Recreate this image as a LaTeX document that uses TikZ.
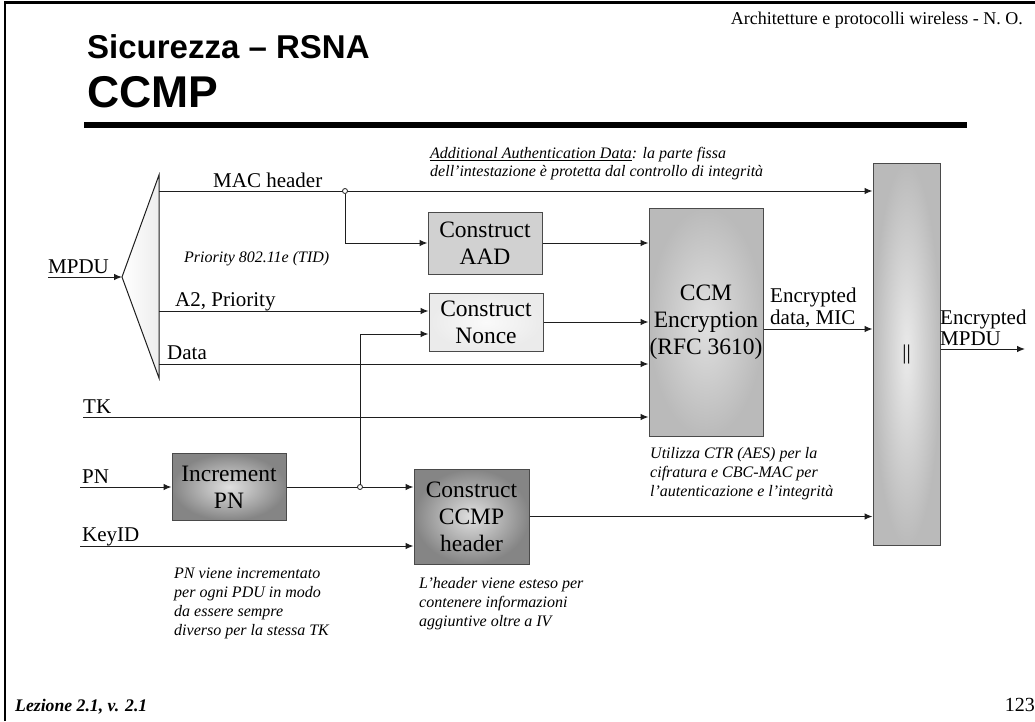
\documentclass[tikz,border=0pt]{standalone}
\usepackage{fontspec}
\setmainfont{Liberation Serif}
\newfontfamily\titlefont{Liberation Sans}
\usetikzlibrary{arrows.meta}
\newcommand\myfs[2]{\fontsize{#1}{#2}\selectfont}
\definecolor{wirec}{HTML}{1E1E1E}
\definecolor{boxl}{HTML}{4A4A4A}
\begin{document}
\begin{tikzpicture}[x=1pt,y=-1pt,
  lbl/.style={font=\myfs{21}{22}, inner sep=0pt, anchor=base west},
  note/.style={font=\myfs{16}{19}\itshape, inner sep=0pt, align=left, anchor=north west},
  box/.style={draw=boxl, line width=1pt, font=\myfs{23.5}{27}, align=center, inner sep=0pt},
  wire/.style={draw=wirec, line width=1pt},
  arr/.style={wire, -{Latex[length=8pt,width=6.5pt]}},
  junc/.style={circle, draw=wirec, line width=0.8pt, fill=white, inner sep=0pt, minimum size=5pt}]
\useasboundingbox (0,0) rectangle (1035,721);
% frame
\draw[line width=2.5pt] (5,721) -- (5,2.5) -- (1035,2.5);
% header / title
\node[font=\myfs{18}{20}, inner sep=0pt, anchor=base east] (hd) at (1023,24) {Architetture e protocolli wireless - N. O.};
\node[font=\titlefont\bfseries\myfs{33}{35}, inner sep=0pt, anchor=base west] (t1) at (87,58) {Sicurezza – RSNA};
\node[font=\titlefont\bfseries\myfs{44.5}{46}, inner sep=0pt, anchor=base west] (t2) at (87,107) {CCMP};
\fill (84,122) rectangle (967,128);
% footer
\node[font=\myfs{17.7}{19}\bfseries\itshape, inner sep=0pt, anchor=base west] (ft) at (15,711) {Lezione 2.1, v. 2.1};
\node[font=\myfs{20}{22}, inner sep=0pt, anchor=base east] (pg) at (1035,711) {123};

% splitter
\coordinate (tt) at (159,175); \coordinate (tp) at (122,277); \coordinate (tb) at (159,378);
\shadedraw[left color=white, right color=gray!14, draw=wirec, line width=1pt] (tt) -- (tp) -- (tb) -- cycle;

% boxes
\node[box, fill=black!18, minimum width=114pt, minimum height=62pt] (aad) at (485,243) {Construct\\AAD};
\node[box, inner color=black!2, outer color=black!8, minimum width=114pt, minimum height=58pt] (nonce) at (486,322) {Construct\\Nonce};
\node[box, inner color=black!12, outer color=black!27, minimum width=114pt, minimum height=228pt] (ccm) at (706,322) {CCM\\Encryption\\(RFC 3610)};
\node[box, inner color=black!8, outer color=black!27, minimum width=67pt, minimum height=382pt, font=\myfs{21}{22}] (cat) at (906.5,354) {||};
\node[box, inner color=black!12, outer color=black!48, minimum width=114pt, minimum height=67pt] (inc) at (229,487) {Increment\\PN};
\node[box, inner color=black!12, outer color=black!48, minimum width=115pt, minimum height=95pt] (hdr) at (471.5,516.5) {Construct\\CCMP\\header};

% labels
\node[lbl] (lmpdu) at (48,273) {MPDU};
\node[lbl] (lmac) at (213,187) {MAC header};
\node[lbl] (la2) at (175,306) {A2, Priority};
\node[lbl] (ldata) at (167,359) {Data};
\node[lbl] (ltk) at (83,413) {TK};
\node[lbl] (lpn) at (82,483) {PN};
\node[lbl] (lkey) at (82,541) {KeyID};
\node[lbl] (le1) at (770,302) {Encrypted};
\node[lbl] (le2) at (770,324) {data, MIC};
\node[lbl] (lo1) at (940,324) {Encrypted};
\node[lbl] (lo2) at (940,345) {MPDU};

% notes
\node[note, font=\myfs{16}{18}\itshape] (naad) at (430,147) {\underline{Additional Authentication Data}: la parte fissa\\dell’intestazione è protetta dal controllo di integrità};
\node[note, anchor=base west] (nprio) at (184,262) {Priority 802.11e (TID)};
\node[note] (nccm) at (650,447) {Utilizza CTR (AES) per la\\cifratura e CBC-MAC per\\l’autenticazione e l’integrità};
\node[note] (nhdr) at (419,577) {L’header viene esteso per\\contenere informazioni\\aggiuntive oltre a IV};
\node[note] (npn) at (174,568) {PN viene incrementato\\per ogni PDU in modo\\da essere sempre\\diverso per la stessa TK};

% connectors
\coordinate (mp) at (48,277);
\draw[arr] (mp) -- (tp);
\coordinate (mh) at (159,191);
\draw[arr] (mh) -- (mh -| cat.west);
\node[junc] (j1) at (345,191) {};
\draw[arr] (j1) |- (aad.west);
\draw[arr] (aad.east) -- (aad.east -| ccm.west);
\coordinate (a2) at (159,311);
\draw[arr] (a2) -- (a2 -| nonce.west);
\draw[arr] (nonce.east) -- (nonce.east -| ccm.west);
\coordinate (dt) at (159,364);
\draw[arr] (dt) -- (dt -| ccm.west);
\coordinate (tk) at (83,417);
\draw[arr] (tk) -- (tk -| ccm.west);
\coordinate (pn) at (80,487);
\draw[arr] (pn) -- (inc.west);
\draw[arr] (inc.east) -- (inc.east -| hdr.west);
\coordinate (j2c) at (360,487);
\coordinate (n2) at ([yshift=-12pt]nonce.west);
\draw[arr] (j2c) |- (n2);
\node[junc] (j2) at (j2c) {};
\coordinate (kid) at (80,546);
\draw[arr] (kid) -- (kid -| hdr.west);
\coordinate (ce) at ([yshift=-7pt]ccm.east);
\draw[arr] (ce) -- (ce -| cat.west);
\draw[arr] (hdr.east) -- (hdr.east -| cat.west);
\coordinate (out) at (1025,349);
\draw[arr] (cat.east |- out) -- (out);
\end{tikzpicture}
\end{document}
